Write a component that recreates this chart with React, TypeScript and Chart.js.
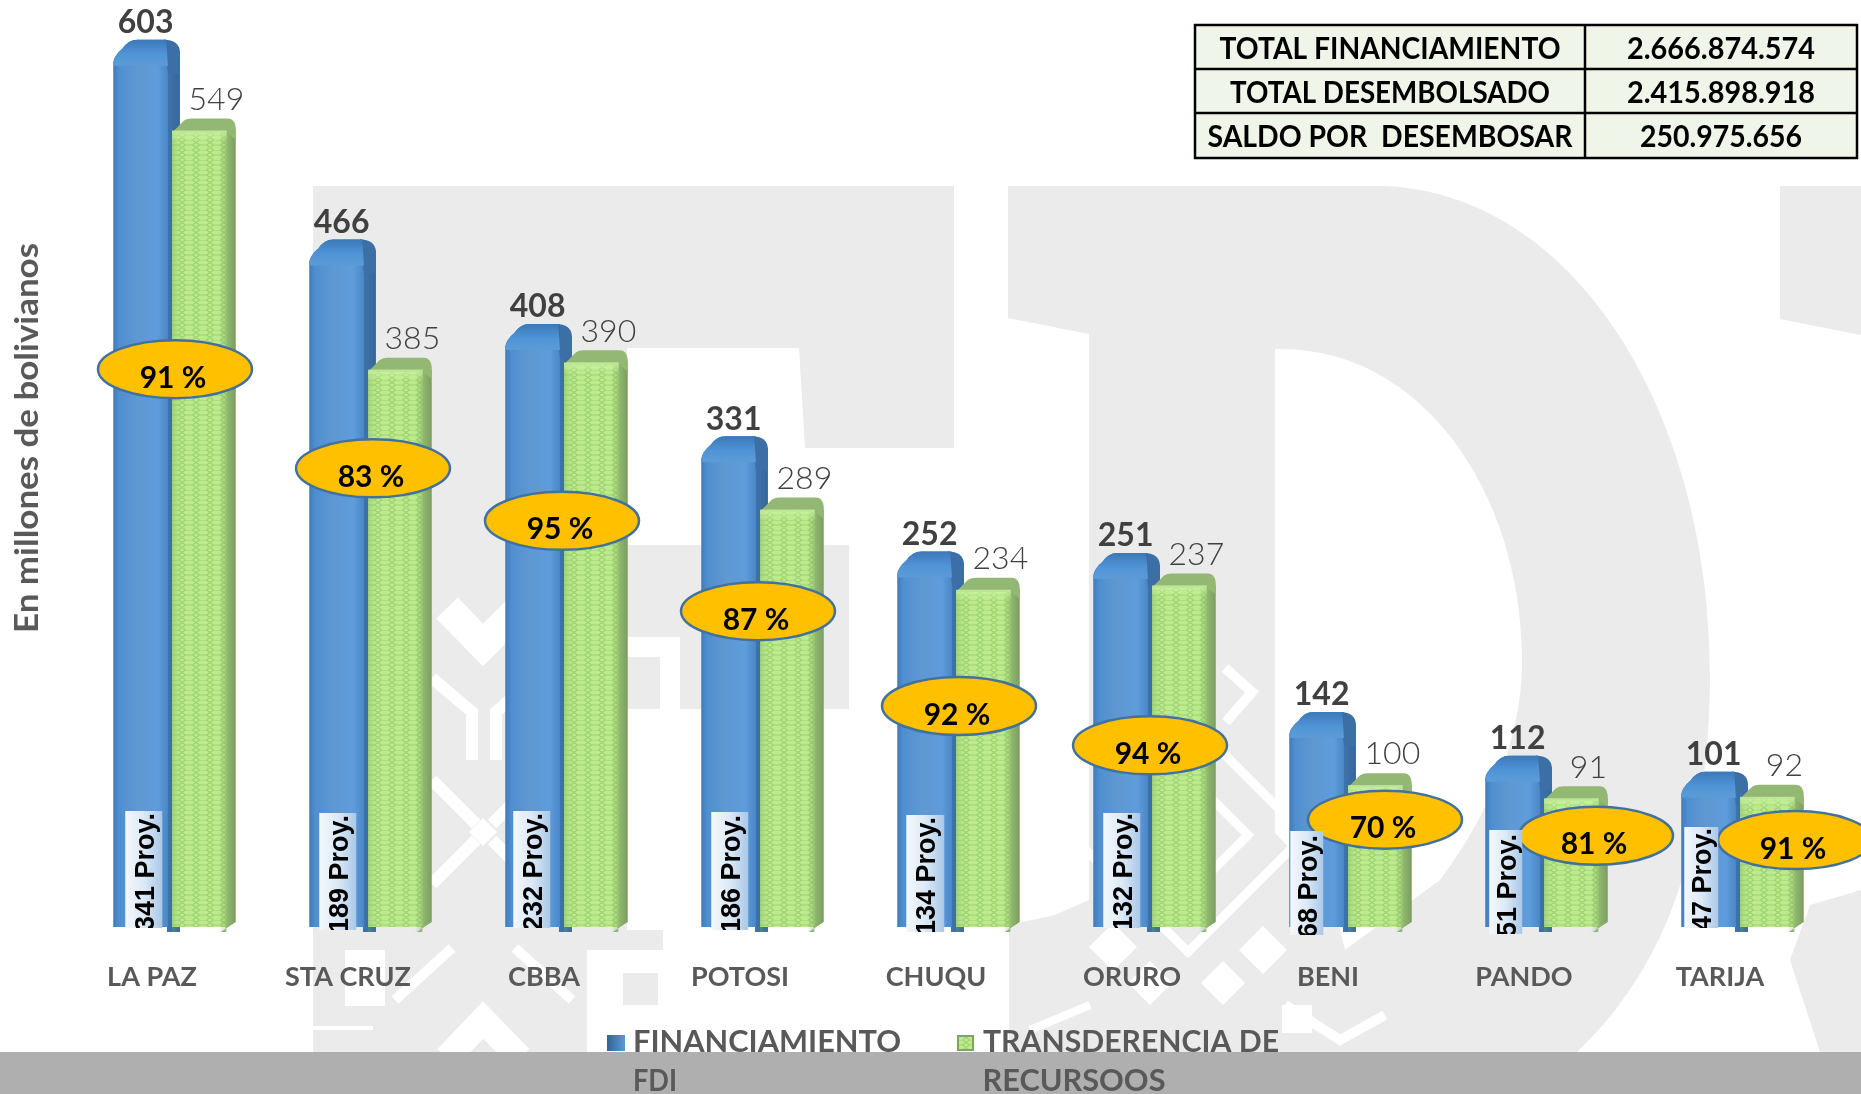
import React, { useEffect, useRef } from "react";
import { Chart, registerables } from "chart.js";

Chart.register(...registerables);

const categories = ["LA PAZ", "STA CRUZ", "CBBA", "POTOSI", "CHUQU", "ORURO", "BENI", "PANDO", "TARIJA"];
const financiamiento = [603, 466, 408, 331, 252, 251, 142, 112, 101];
const transferencia = [549, 385, 390, 289, 234, 237, 100, 91, 92];
const percentages = [91, 83, 95, 87, 92, 94, 70, 81, 91];
const projects = [341, 189, 232, 186, 134, 132, 68, 51, 47];
const badgeLevels = [386, 318, 282, 220, 155, 128, 77, 66, 63];
const legendFinanciamiento = ["FINANCIAMIENTO", "FDI"];
const legendTransferencia = ["TRANSDERENCIA DE", "RECURSOOS"];
const summaryLabels = ["TOTAL FINANCIAMIENTO", "TOTAL DESEMBOLSADO", "SALDO POR  DESEMBOSAR"];
const summaryValues = ["2.666.874.574", "2.415.898.918", "250.975.656"];
const yTitle = "En millones de bolivianos";

const FONT = "Lato, 'Open Sans', sans-serif";
const W = 1861;
const H = 1094;
const GRAY = "#ebebeb";

// layout-only helpers
const badgeShift = [5, 7, 0, 0, 5, 0, 39, 54, 57];
const boxShift = [12, 10, 8, 10, 9, 10, 1, 4, 3];
const boxTop = [811, 813, 811, 812, 815, 813, 831, 830, 827];
const boxBottom = [928, 930, 928, 930, 932, 928, 935, 934, 928];
const boxWide = [37, 37, 37, 37, 38, 37, 33, 33, 34];

function fitText(ctx: CanvasRenderingContext2D, text: string, cx: number, y: number, target: number) {
  const natural = ctx.measureText(text).width;
  ctx.save();
  ctx.translate(cx, y);
  ctx.scale(target / natural, 1);
  ctx.textAlign = "center";
  ctx.fillText(text, 0, 0);
  ctx.restore();
}

function makeGreenPattern(ctx: CanvasRenderingContext2D) {
  const c = document.createElement("canvas");
  c.width = 14;
  c.height = 10;
  const p = c.getContext("2d")!;
  p.fillStyle = "#bcea8c";
  p.fillRect(0, 0, 14, 10);
  p.strokeStyle = "#9ed273";
  p.lineWidth = 1.2;
  p.beginPath();
  p.moveTo(0, 2.5);
  p.lineTo(3.5, 0);
  p.lineTo(10.5, 0);
  p.lineTo(14, 2.5);
  p.moveTo(0, 2.5);
  p.lineTo(3.5, 5);
  p.lineTo(10.5, 5);
  p.lineTo(14, 2.5);
  p.moveTo(3.5, 5);
  p.lineTo(0, 7.5);
  p.lineTo(3.5, 10);
  p.moveTo(10.5, 5);
  p.lineTo(14, 7.5);
  p.lineTo(10.5, 10);
  p.stroke();
  return ctx.createPattern(c, "repeat")!;
}

function poly(ctx: CanvasRenderingContext2D, pts: number[][]) {
  ctx.beginPath();
  pts.forEach(([x, y], i) => (i ? ctx.lineTo(x, y) : ctx.moveTo(x, y)));
  ctx.closePath();
  ctx.fill();
}

function line(ctx: CanvasRenderingContext2D, pts: number[][], width: number) {
  ctx.lineWidth = width;
  ctx.lineJoin = "miter";
  ctx.lineCap = "butt";
  ctx.beginPath();
  pts.forEach(([x, y], i) => (i ? ctx.lineTo(x, y) : ctx.moveTo(x, y)));
  ctx.stroke();
}

function diamond(ctx: CanvasRenderingContext2D, cx: number, cy: number, r: number) {
  poly(ctx, [
    [cx, cy - r],
    [cx + r, cy],
    [cx, cy + r],
    [cx - r, cy],
  ]);
}

function drawWatermark(ctx: CanvasRenderingContext2D) {
  ctx.fillStyle = "#ffffff";
  ctx.fillRect(0, 0, W, H);
  ctx.fillStyle = GRAY;

  // F
  poly(ctx, [
    [313, 186],
    [954, 186],
    [954, 448],
    [805, 448],
    [799, 348],
    [627, 348],
    [627, 545],
    [849, 545],
    [849, 709],
    [663, 709],
    [663, 1052],
    [313, 1052],
  ]);

  // F lower ornament: white strokes cut out of the stem
  ctx.strokeStyle = "#ffffff";
  ctx.fillStyle = "#ffffff";
  line(ctx, [[447, 608], [483, 645], [520, 608]], 30);
  line(ctx, [[432, 678], [472, 712], [472, 760]], 12);
  line(ctx, [[535, 678], [496, 712], [496, 760]], 12);
  line(ctx, [[432, 780], [476, 824]], 12);
  line(ctx, [[536, 780], [492, 824]], 12);
  line(ctx, [[432, 884], [476, 840]], 12);
  line(ctx, [[536, 884], [492, 840]], 12);
  diamond(ctx, 483, 832, 14);
  ctx.fillStyle = "#ffffff";
  ctx.fillRect(627, 709, 36, 221);
  ctx.fillRect(660, 637, 20, 72);
  ctx.fillRect(627, 637, 33, 20);
  // base of the F
  ctx.fillRect(345, 950, 40, 56);
  ctx.fillRect(313, 1026, 60, 4);
  ctx.fillRect(587, 950, 76, 23);
  ctx.fillRect(587, 973, 36, 32);
  ctx.fillRect(587, 1005, 76, 47);
  ctx.fillRect(658, 973, 5, 32);
  line(ctx, [[447, 1058], [483, 1020], [520, 1058]], 26);
  line(ctx, [[395, 1000], [452, 948]], 10);
  line(ctx, [[572, 1000], [515, 948]], 10);

  // D outer shape with its counter cut out
  ctx.fillStyle = GRAY;
  ctx.beginPath();
  ctx.moveTo(1008, 186);
  ctx.lineTo(1385, 186);
  ctx.bezierCurveTo(1580, 195, 1712, 420, 1710, 680);
  ctx.bezierCurveTo(1708, 830, 1675, 960, 1577, 1052);
  ctx.lineTo(1009, 1052);
  ctx.lineTo(1009, 925);
  ctx.lineTo(1055, 915);
  ctx.lineTo(1089, 900);
  ctx.lineTo(1089, 334);
  ctx.lineTo(1008, 318);
  ctx.closePath();
  ctx.moveTo(1275, 349);
  ctx.lineTo(1275, 833);
  ctx.lineTo(1330, 890);
  ctx.lineTo(1345, 950);
  ctx.lineTo(1440, 880);
  ctx.bezierCurveTo(1500, 800, 1524, 720, 1522, 655);
  ctx.bezierCurveTo(1520, 490, 1420, 345, 1275, 349);
  ctx.closePath();
  ctx.fill("evenodd");

  // D ornament
  ctx.strokeStyle = "#ffffff";
  ctx.fillStyle = "#ffffff";
  line(ctx, [[1188, 718], [1305, 835], [1188, 952], [1071, 835]], 9);
  line(ctx, [[1188, 775], [1248, 835], [1188, 895], [1128, 835]], 9);
  line(ctx, [[1225, 668], [1252, 692], [1226, 722]], 10);
  diamond(ctx, 1113, 947, 24);
  diamond(ctx, 1263, 950, 24);
  diamond(ctx, 1150, 983, 22);
  diamond(ctx, 1223, 983, 22);
  ctx.fillRect(1282, 1005, 30, 28);
  line(ctx, [[1285, 1005], [1340, 1040], [1385, 1015]], 10);
  line(ctx, [[1030, 1030], [1090, 1005]], 8);

  // I
  ctx.fillStyle = GRAY;
  poly(ctx, [
    [1780, 186],
    [W, 186],
    [W, 335],
    [1780, 319],
  ]);
  poly(ctx, [
    [1861, 890],
    [1810, 905],
    [1790, 960],
    [1820, 1052],
    [1861, 1052],
  ]);

  // band
  ctx.fillStyle = "#afafaf";
  ctx.fillRect(0, 1052, W, 42);
}

function drawSide(
  ctx: CanvasRenderingContext2D,
  el: any,
  depth: number,
  from: string,
  to: string,
  chamfer: number,
  top: number
) {
  const right = el.x + el.width / 2;
  const g = ctx.createLinearGradient(right - 1, 0, right + depth, 0);
  g.addColorStop(0, from);
  g.addColorStop(1, to);
  ctx.fillStyle = g;
  ctx.beginPath();
  ctx.moveTo(right - 1, el.y - top);
  ctx.lineTo(right + depth, el.y - top + 4);
  ctx.lineTo(right + depth, el.base - chamfer);
  ctx.lineTo(right - 6, el.base);
  ctx.lineTo(right - 1, el.base);
  ctx.closePath();
  ctx.fill();
}

function drawBlueCap(ctx: CanvasRenderingContext2D, el: any) {
  const L = el.x - el.width / 2;
  const R = el.x + el.width / 2 + 12;
  const yb = el.y - 13;
  // back / right shoulder
  ctx.fillStyle = "#3b6fa6";
  ctx.beginPath();
  ctx.moveTo(R - 16, yb);
  ctx.quadraticCurveTo(R - 1, yb, R, yb + 12);
  ctx.lineTo(R, yb + 34);
  ctx.lineTo(R - 12, yb + 34);
  ctx.closePath();
  ctx.fill();
  const g = ctx.createLinearGradient(0, yb, 0, yb + 24);
  g.addColorStop(0, "#3c79b8");
  g.addColorStop(0.6, "#4f94d8");
  g.addColorStop(1, "#5b9bd5");
  ctx.fillStyle = g;
  ctx.beginPath();
  ctx.moveTo(L, yb + 24);
  ctx.quadraticCurveTo(L + 1, yb + 15, L + 9, yb + 9);
  ctx.quadraticCurveTo(L + 15, yb, L + 24, yb);
  ctx.lineTo(R - 14, yb);
  ctx.quadraticCurveTo(R - 13, yb + 8, R - 12, yb + 26);
  ctx.lineTo(L, yb + 26);
  ctx.closePath();
  ctx.fill();
}

function drawGreenCap(ctx: CanvasRenderingContext2D, el: any) {
  const L = el.x - el.width / 2;
  const R = el.x + el.width / 2 + 9;
  const yb = el.y - 13;
  ctx.fillStyle = "#93b873";
  ctx.beginPath();
  ctx.moveTo(L, el.y + 1);
  ctx.lineTo(L + 12, yb + 2);
  ctx.quadraticCurveTo(L + 15, yb, L + 19, yb);
  ctx.lineTo(R - 8, yb);
  ctx.quadraticCurveTo(R - 1, yb, R, yb + 9);
  ctx.lineTo(R, el.y + 8);
  ctx.lineTo(R - 9, el.y + 1);
  ctx.closePath();
  ctx.fill();
  const g = ctx.createLinearGradient(0, el.y - 3, 0, el.y + 10);
  g.addColorStop(0, "rgba(205,245,165,0.95)");
  g.addColorStop(1, "rgba(205,245,165,0)");
  ctx.fillStyle = g;
  ctx.fillRect(L, el.y - 1, el.width, 12);
}

function greenShade(ctx: CanvasRenderingContext2D, el: any) {
  const L = el.x - el.width / 2;
  const g = ctx.createLinearGradient(L, 0, L + el.width, 0);
  g.addColorStop(0, "rgba(120,170,90,0.35)");
  g.addColorStop(0.15, "rgba(120,170,90,0)");
  g.addColorStop(0.85, "rgba(120,170,90,0)");
  g.addColorStop(1, "rgba(110,150,80,0.35)");
  ctx.fillStyle = g;
  ctx.fillRect(L, el.y, el.width, el.base - el.y);
}

const App: React.FC = () => {
  const ref = useRef<HTMLCanvasElement>(null);

  useEffect(() => {
    const canvas = ref.current!;
    const ctx2d = canvas.getContext("2d")!;
    const greenPattern = makeGreenPattern(ctx2d);

    const blueFill = (c: any) => {
      const x = c.chart.scales.x;
      if (c.type !== "data" || !x) return "#5b9bd5";
      const center = x.getPixelForValue(c.dataIndex) - 29.5;
      if (!Number.isFinite(center)) return "#5b9bd5";
      const g = c.chart.ctx.createLinearGradient(center - 28, 0, center + 28, 0);
      g.addColorStop(0, "#3f78b2");
      g.addColorStop(0.12, "#4f8fcf");
      g.addColorStop(0.45, "#5f98d2");
      g.addColorStop(0.8, "#5e9cdc");
      g.addColorStop(1, "#4a86c4");
      return g;
    };

    const artwork = {
      id: "artwork",
      beforeDraw(chart: any) {
        drawWatermark(chart.ctx);
      },
      beforeDatasetDraw(chart: any, args: any) {
        const ctx = chart.ctx;
        if (args.index !== 1) return;
        // Green is painted first by the library, so the back parts of the blue
        // columns go down before it and the green front sits over them.
        chart.getDatasetMeta(0).data.forEach((el: any) => {
          drawSide(ctx, el, 12, "#3f75ad", "#36679a", 0, 5);
          drawBlueCap(ctx, el);
        });
        chart.getDatasetMeta(1).data.forEach((el: any) => {
          drawSide(ctx, el, 9, "#93bd70", "#7c9c60", 10, 5);
        });
      },
      afterDatasetDraw(chart: any, args: any) {
        const ctx = chart.ctx;
        chart.getDatasetMeta(args.index).data.forEach((el: any) => {
          if (args.index === 1) {
            greenShade(ctx, el);
            drawGreenCap(ctx, el);
          } else {
            ctx.save();
            ctx.beginPath();
            ctx.rect(el.x - el.width / 2 - 1, 0, el.width + 1, H);
            ctx.clip();
            drawBlueCap(ctx, el);
            ctx.restore();
          }
        });
      },
      afterDraw(chart: any) {
        const ctx: CanvasRenderingContext2D = chart.ctx;
        const blue = chart.getDatasetMeta(0).data;
        const green = chart.getDatasetMeta(1).data;
        const xs = chart.scales.x;
        const ys = chart.scales.y;

        ctx.save();
        ctx.textBaseline = "middle";

        // value labels
        ctx.textAlign = "center";
        ctx.font = `bold 32px ${FONT}`;
        ctx.fillStyle = "#404040";
        blue.forEach((el: any, i: number) => {
          ctx.fillText(String(financiamiento[i]), el.x + 5, el.y - 13 - 17);
        });
        ctx.font = `300 32px ${FONT}`;
        ctx.fillStyle = "#404040";
        green.forEach((el: any, i: number) => {
          ctx.fillText(String(transferencia[i]), el.x + 17, el.y - 13 - 19);
        });

        // percentage badges
        percentages.forEach((p, i) => {
          const cx = xs.getPixelForValue(i) + badgeShift[i];
          const cy = ys.getPixelForValue(badgeLevels[i]);
          ctx.beginPath();
          ctx.ellipse(cx, cy, 77, 29, 0, 0, Math.PI * 2);
          ctx.fillStyle = "#ffc000";
          ctx.fill();
          ctx.lineWidth = 2.5;
          ctx.strokeStyle = "#41719c";
          ctx.stroke();
          ctx.fillStyle = "#000000";
          ctx.font = `bold 30px ${FONT}`;
          ctx.textAlign = "center";
          ctx.fillText(`${p} %`, cx - 2, cy + 9);
        });

        // rotated project labels
        projects.forEach((v, i) => {
          const L = blue[i].x - blue[i].width / 2 + boxShift[i];
          const top = boxTop[i];
          const bottom = boxBottom[i];
          const w = boxWide[i];
          const g = ctx.createLinearGradient(L, 0, L + w, 0);
          g.addColorStop(0, "#f4f8fc");
          g.addColorStop(0.5, "#dce9f6");
          g.addColorStop(1, "#a9c8e8");
          ctx.fillStyle = g;
          ctx.fillRect(L, top, w, bottom - top);
          ctx.save();
          ctx.beginPath();
          ctx.rect(L, top, w, bottom - top);
          ctx.clip();
          ctx.translate(L + w / 2 + 10, bottom + 3);
          ctx.rotate(-Math.PI / 2);
          ctx.textAlign = "left";
          ctx.textBaseline = "alphabetic";
          ctx.fillStyle = "#000000";
          ctx.font = "bold 27px 'Liberation Sans', Arial, sans-serif";
          ctx.fillText(`${v} Proy.`, 0, 0);
          ctx.restore();
        });

        // y title
        ctx.save();
        ctx.translate(27, 438);
        ctx.rotate(-Math.PI / 2);
        ctx.fillStyle = "#595959";
        ctx.font = `bold 33px ${FONT}`;
        fitText(ctx, yTitle, 0, 0, 390);
        ctx.restore();

        // summary table
        const tx = [1195, 1585, 1857];
        const ty = [25, 69, 113, 158];
        ctx.fillStyle = "#eff5e9";
        ctx.fillRect(tx[0], ty[0], tx[2] - tx[0], ty[3] - ty[0]);
        ctx.strokeStyle = "#000000";
        ctx.lineWidth = 2.5;
        ctx.strokeRect(tx[0], ty[0], tx[2] - tx[0], ty[3] - ty[0]);
        ctx.beginPath();
        ctx.moveTo(tx[1], ty[0]);
        ctx.lineTo(tx[1], ty[3]);
        ctx.moveTo(tx[0], ty[1]);
        ctx.lineTo(tx[2], ty[1]);
        ctx.moveTo(tx[0], ty[2]);
        ctx.lineTo(tx[2], ty[2]);
        ctx.stroke();
        ctx.fillStyle = "#000000";
        ctx.font = `bold 30px ${FONT}`;
        const labelW = [341, 320, 365];
        const valueW = [188, 188, 162];
        summaryLabels.forEach((t, i) => {
          fitText(ctx, t, 1390, (ty[i] + ty[i + 1]) / 2 + 2, labelW[i]);
          fitText(ctx, summaryValues[i], 1721, (ty[i] + ty[i + 1]) / 2 + 2, valueW[i]);
        });

        // legend
        const swatch = (x: number, y: number, w: number, h: number, fill: any) => {
          ctx.fillStyle = fill;
          ctx.fillRect(x, y, w, h);
        };
        const bg = ctx.createLinearGradient(607, 0, 625, 0);
        bg.addColorStop(0, "#2f6499");
        bg.addColorStop(1, "#5b9bd5");
        swatch(607, 1035, 18, 16, bg);
        swatch(957, 1035, 17, 16, "#7fa562");
        swatch(959, 1037, 13, 12, greenPattern);
        ctx.font = `bold 31px ${FONT}`;
        ctx.fillStyle = "#595959";
        fitText(ctx, legendFinanciamiento[0], 767, 1042, 268);
        fitText(ctx, legendFinanciamiento[1], 655, 1081, 44);
        fitText(ctx, legendTransferencia[0], 1131, 1042, 296);
        fitText(ctx, legendTransferencia[1], 1074, 1081, 183);
        ctx.restore();
      },
    };

    const chart = new Chart(canvas, {
      type: "bar",
      data: {
        labels: categories,
        datasets: [
          {
            label: "FINANCIAMIENTO FDI",
            data: financiamiento,
            backgroundColor: blueFill,
            borderWidth: 0,
            borderRadius: { topLeft: 10, topRight: 0, bottomLeft: 2, bottomRight: 0 },
          },
          {
            label: "TRANSDERENCIA DE RECURSOOS",
            data: transferencia,
            backgroundColor: greenPattern,
            borderWidth: 0,
          },
        ],
      },
      options: {
        responsive: false,
        animation: false,
        layout: { padding: { left: 0, right: 25, top: 0, bottom: 0 } },
        datasets: { bar: { categoryPercentage: 0.6, barPercentage: 0.93 } },
        plugins: { legend: { display: false }, tooltip: { enabled: false }, title: { display: false } },
        scales: {
          x: {
            grid: { display: false, drawTicks: false },
            border: { display: false },
            afterFit: (s: any) => {
              s.height = 167;
            },
            ticks: {
              autoSkip: false,
              maxRotation: 0,
              labelOffset: -18,
              padding: 34,
              color: "#595959",
              font: { family: FONT, size: 27, weight: "bold" },
            },
          },
          y: {
            min: 3.4,
            max: 639.2,
            grid: { display: false, drawTicks: false },
            border: { display: false },
            afterFit: (s: any) => {
              s.width = 72;
            },
            ticks: { display: false },
          },
        },
      },
      plugins: [artwork],
    } as any);

    return () => chart.destroy();
  }, []);

  return (
    <canvas
      ref={ref}
      width={W}
      height={H}
      style={{ position: "fixed", left: 0, top: 0, width: W, height: H, display: "block" }}
    />
  );
};

export default App;
